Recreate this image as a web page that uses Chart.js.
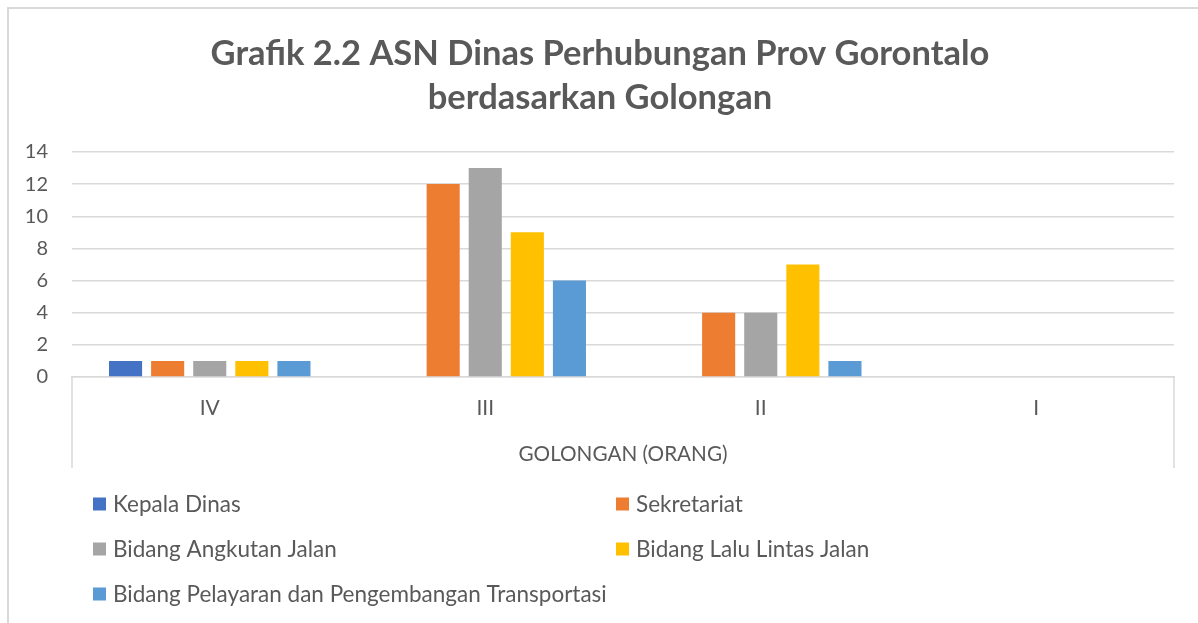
<!DOCTYPE html>
<html><head><meta charset="utf-8">
<script src="https://cdn.jsdelivr.net/npm/chart.js@4/dist/chart.umd.min.js"></script>
<style>html,body{margin:0;padding:0;background:#fff}#wrap{width:1198px;height:623px;position:relative}</style>
</head><body><div id="wrap"><canvas id="c" width="1198" height="623"></canvas></div>
<script>
const categories = ['IV', 'III', 'II', 'I'];
const seriesNames = ['Kepala Dinas', 'Sekretariat', 'Bidang Angkutan Jalan', 'Bidang Lalu Lintas Jalan', 'Bidang Pelayaran dan Pengembangan Transportasi'];
const kepalaDinas = [1, 0, 0, 0];
const sekretariat = [1, 12, 4, 0];
const angkutanJalan = [1, 13, 4, 0];
const laluLintasJalan = [1, 9, 7, 0];
const pelayaran = [1, 6, 1, 0];
const yTicks = [0, 2, 4, 6, 8, 10, 12, 14];
const titleLines = ['Grafik 2.2 ASN Dinas Perhubungan Prov Gorontalo', 'berdasarkan Golongan'];
const xTitle = 'GOLONGAN (ORANG)';
const colors = ['#4472C4', '#ED7D31', '#A5A5A5', '#FFC000', '#5B9BD5'];
const seriesValues = [kepalaDinas, sekretariat, angkutanJalan, laluLintasJalan, pelayaran];

const TEXT = '#595959';
const LINE = '#D9D9D9';
const FONT = 'Lato';

const framePlugin = {
  id: 'frame',
  beforeDraw(chart) {
    const ctx = chart.ctx;
    ctx.save();
    ctx.fillStyle = '#fff';
    ctx.fillRect(0, 0, chart.width, chart.height);
    ctx.strokeStyle = LINE;
    ctx.lineWidth = 2;
    ctx.beginPath();
    ctx.moveTo(8, chart.height);
    ctx.lineTo(8, 8);
    ctx.lineTo(chart.width, 8);
    ctx.stroke();
    ctx.restore();
  },
  afterDraw(chart) {
    const ctx = chart.ctx;
    const a = chart.chartArea;
    const xs = chart.scales.x;
    ctx.save();
    ctx.strokeStyle = LINE;
    ctx.lineWidth = 1.5;
    ctx.beginPath();
    ctx.moveTo(a.left, a.bottom);
    ctx.lineTo(a.left, xs.bottom);
    ctx.moveTo(a.right, a.bottom);
    ctx.lineTo(a.right, xs.bottom);
    ctx.stroke();
    // legend in two columns
    const colX = [93, 616];
    const rowY0 = xs.bottom + 36;
    const rowStep = 45;
    ctx.font = '22.5px ' + FONT;
    ctx.textBaseline = 'middle';
    ctx.textAlign = 'left';
    chart.data.datasets.forEach((ds, i) => {
      const col = i % 2, row = Math.floor(i / 2);
      const x = colX[col], y = rowY0 + row * rowStep;
      ctx.fillStyle = ds.backgroundColor;
      ctx.fillRect(x, y - 6.5, 13, 13);
      ctx.fillStyle = TEXT;
      ctx.fillText(ds.label, x + 20, y + 1);
    });
    ctx.restore();
  }
};

new Chart(document.getElementById('c'), {
  type: 'bar',
  data: {
    labels: categories,
    datasets: seriesNames.map((n, i) => ({
      label: n,
      data: seriesValues[i],
      backgroundColor: colors[i],
      borderWidth: 0,
      categoryPercentage: 0.764,
      barPercentage: 0.786
    }))
  },
  options: {
    responsive: false,
    devicePixelRatio: 1,
    animation: false,
    layout: { padding: { left: 26, right: 24, top: 0, bottom: 155 } },
    plugins: {
      legend: { display: false },
      tooltip: { enabled: false },
      title: {
        display: true,
        text: titleLines,
        color: TEXT,
        font: { family: FONT, size: 34.5, weight: 'bold', lineHeight: 1.275 },
        padding: { top: 32, bottom: 32 }
      }
    },
    scales: {
      x: {
        grid: { display: false },
        border: { display: true, color: LINE, width: 1.5 },
        ticks: { color: TEXT, font: { family: FONT, size: 21 }, padding: 11 },
        title: { display: true, text: xTitle, color: TEXT, font: { family: FONT, size: 20.7 }, padding: { top: 0, bottom: 1 } },
        afterFit(s) { s.height = 91; }
      },
      y: {
        min: 0, max: 14,
        afterBuildTicks(s) { s.ticks = yTicks.map(v => ({ value: v })); },
        grid: { color: LINE, lineWidth: 1.5, drawTicks: false },
        border: { display: false },
        ticks: { color: TEXT, font: { family: FONT, size: 20 }, padding: 24 },
        afterFit(s) { s.width = 46; }
      }
    }
  },
  plugins: [framePlugin]
});
</script>
</body></html>
